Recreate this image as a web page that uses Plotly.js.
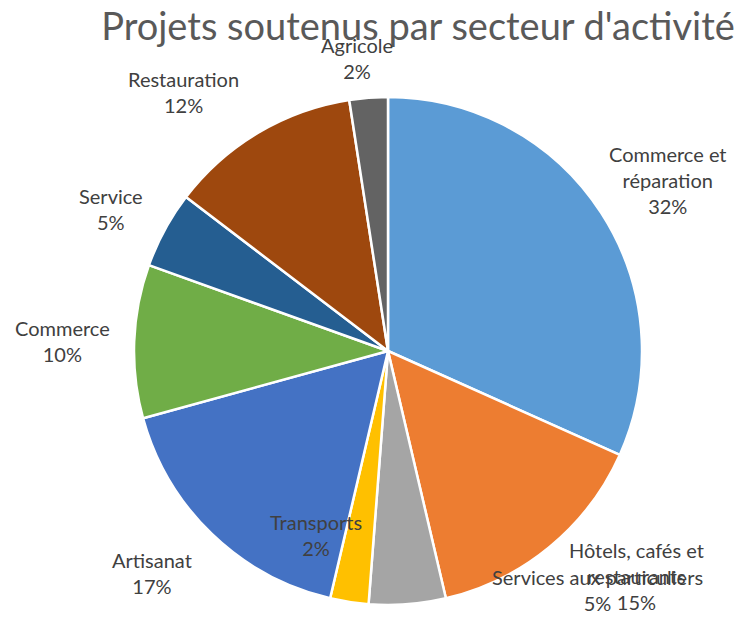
<!DOCTYPE html>
<html>
<head>
<meta charset="utf-8">
<script src="https://cdn.plot.ly/plotly-3.0.1.min.js"></script>
<style>
  html, body { margin: 0; padding: 0; background: #fff; }
  #graph { width: 744px; height: 617px; }
</style>
</head>
<body>
<div id="graph"></div>
<script>
// secteurs, dans l'ordre du graphique (sens horaire depuis midi)
var secteurs = ["Commerce et réparation", "Hôtels, cafés et restaurants", "Services aux particuliers",
                "Transports", "Artisanat", "Commerce", "Service", "Restauration", "Agricole"];
// nombre de projets par secteur
var projets = [13, 6, 2, 1, 7, 4, 2, 5, 1];
var couleurs = ["#5B9BD5", "#ED7D31", "#A5A5A5", "#FFC000", "#4472C4",
                "#70AD47", "#255E91", "#9E480E", "#636363"];

// libellés avec retour à la ligne comme dans Excel
var libelles = ["Commerce et<br>réparation", "Hôtels, cafés et<br>restaurants", "Services aux particuliers",
                "Transports", "Artisanat", "Commerce", "Service", "Restauration", "Agricole"];

var W = 744, H = 617;
// centre des étiquettes en pixels
var posEtiq = [[668, 180], [636, 576], [597, 590], [316, 535], [152, 573],
               [62, 341], [111, 209], [183, 92], [357, 58]];

var total = 0;
for (var i = 0; i < projets.length; i++) total += projets[i];

var annotations = [];
for (var i = 0; i < secteurs.length; i++) {
    var pct = Math.round(projets[i] / total * 100) + '%';
    annotations.push({
        xref: 'paper', yref: 'paper',
        x: posEtiq[i][0] / W, y: 1 - posEtiq[i][1] / H,
        xanchor: 'center', yanchor: 'middle',
        text: libelles[i] + '<br>' + pct,
        showarrow: false,
        font: {family: 'Lato, "Open Sans", sans-serif', size: 20, color: '#404040'}
    });
}

var cx = 388, cy = 351, r = 254;
var trace = {
    type: 'pie',
    labels: secteurs,
    values: projets,
    sort: false,
    direction: 'clockwise',
    rotation: 0,
    textinfo: 'none',
    hoverinfo: 'label+percent',
    marker: {colors: couleurs, line: {color: '#ffffff', width: 2.5}},
    domain: {x: [(cx - r) / W, (cx + r) / W], y: [1 - (cy + r) / H, 1 - (cy - r) / H]}
};

var layout = {
    width: W, height: H,
    margin: {l: 0, r: 0, t: 0, b: 0},
    paper_bgcolor: '#ffffff',
    showlegend: false,
    title: {
        text: "Projets soutenus par secteur d'activité",
        x: 418 / W, xanchor: 'center',
        y: 1 - 27 / H, yanchor: 'middle',
        font: {family: 'Lato, "Open Sans", sans-serif', size: 38, color: '#595959'}
    },
    annotations: annotations
};

Plotly.newPlot('graph', [trace], layout, {displayModeBar: false});
</script>
</body>
</html>
